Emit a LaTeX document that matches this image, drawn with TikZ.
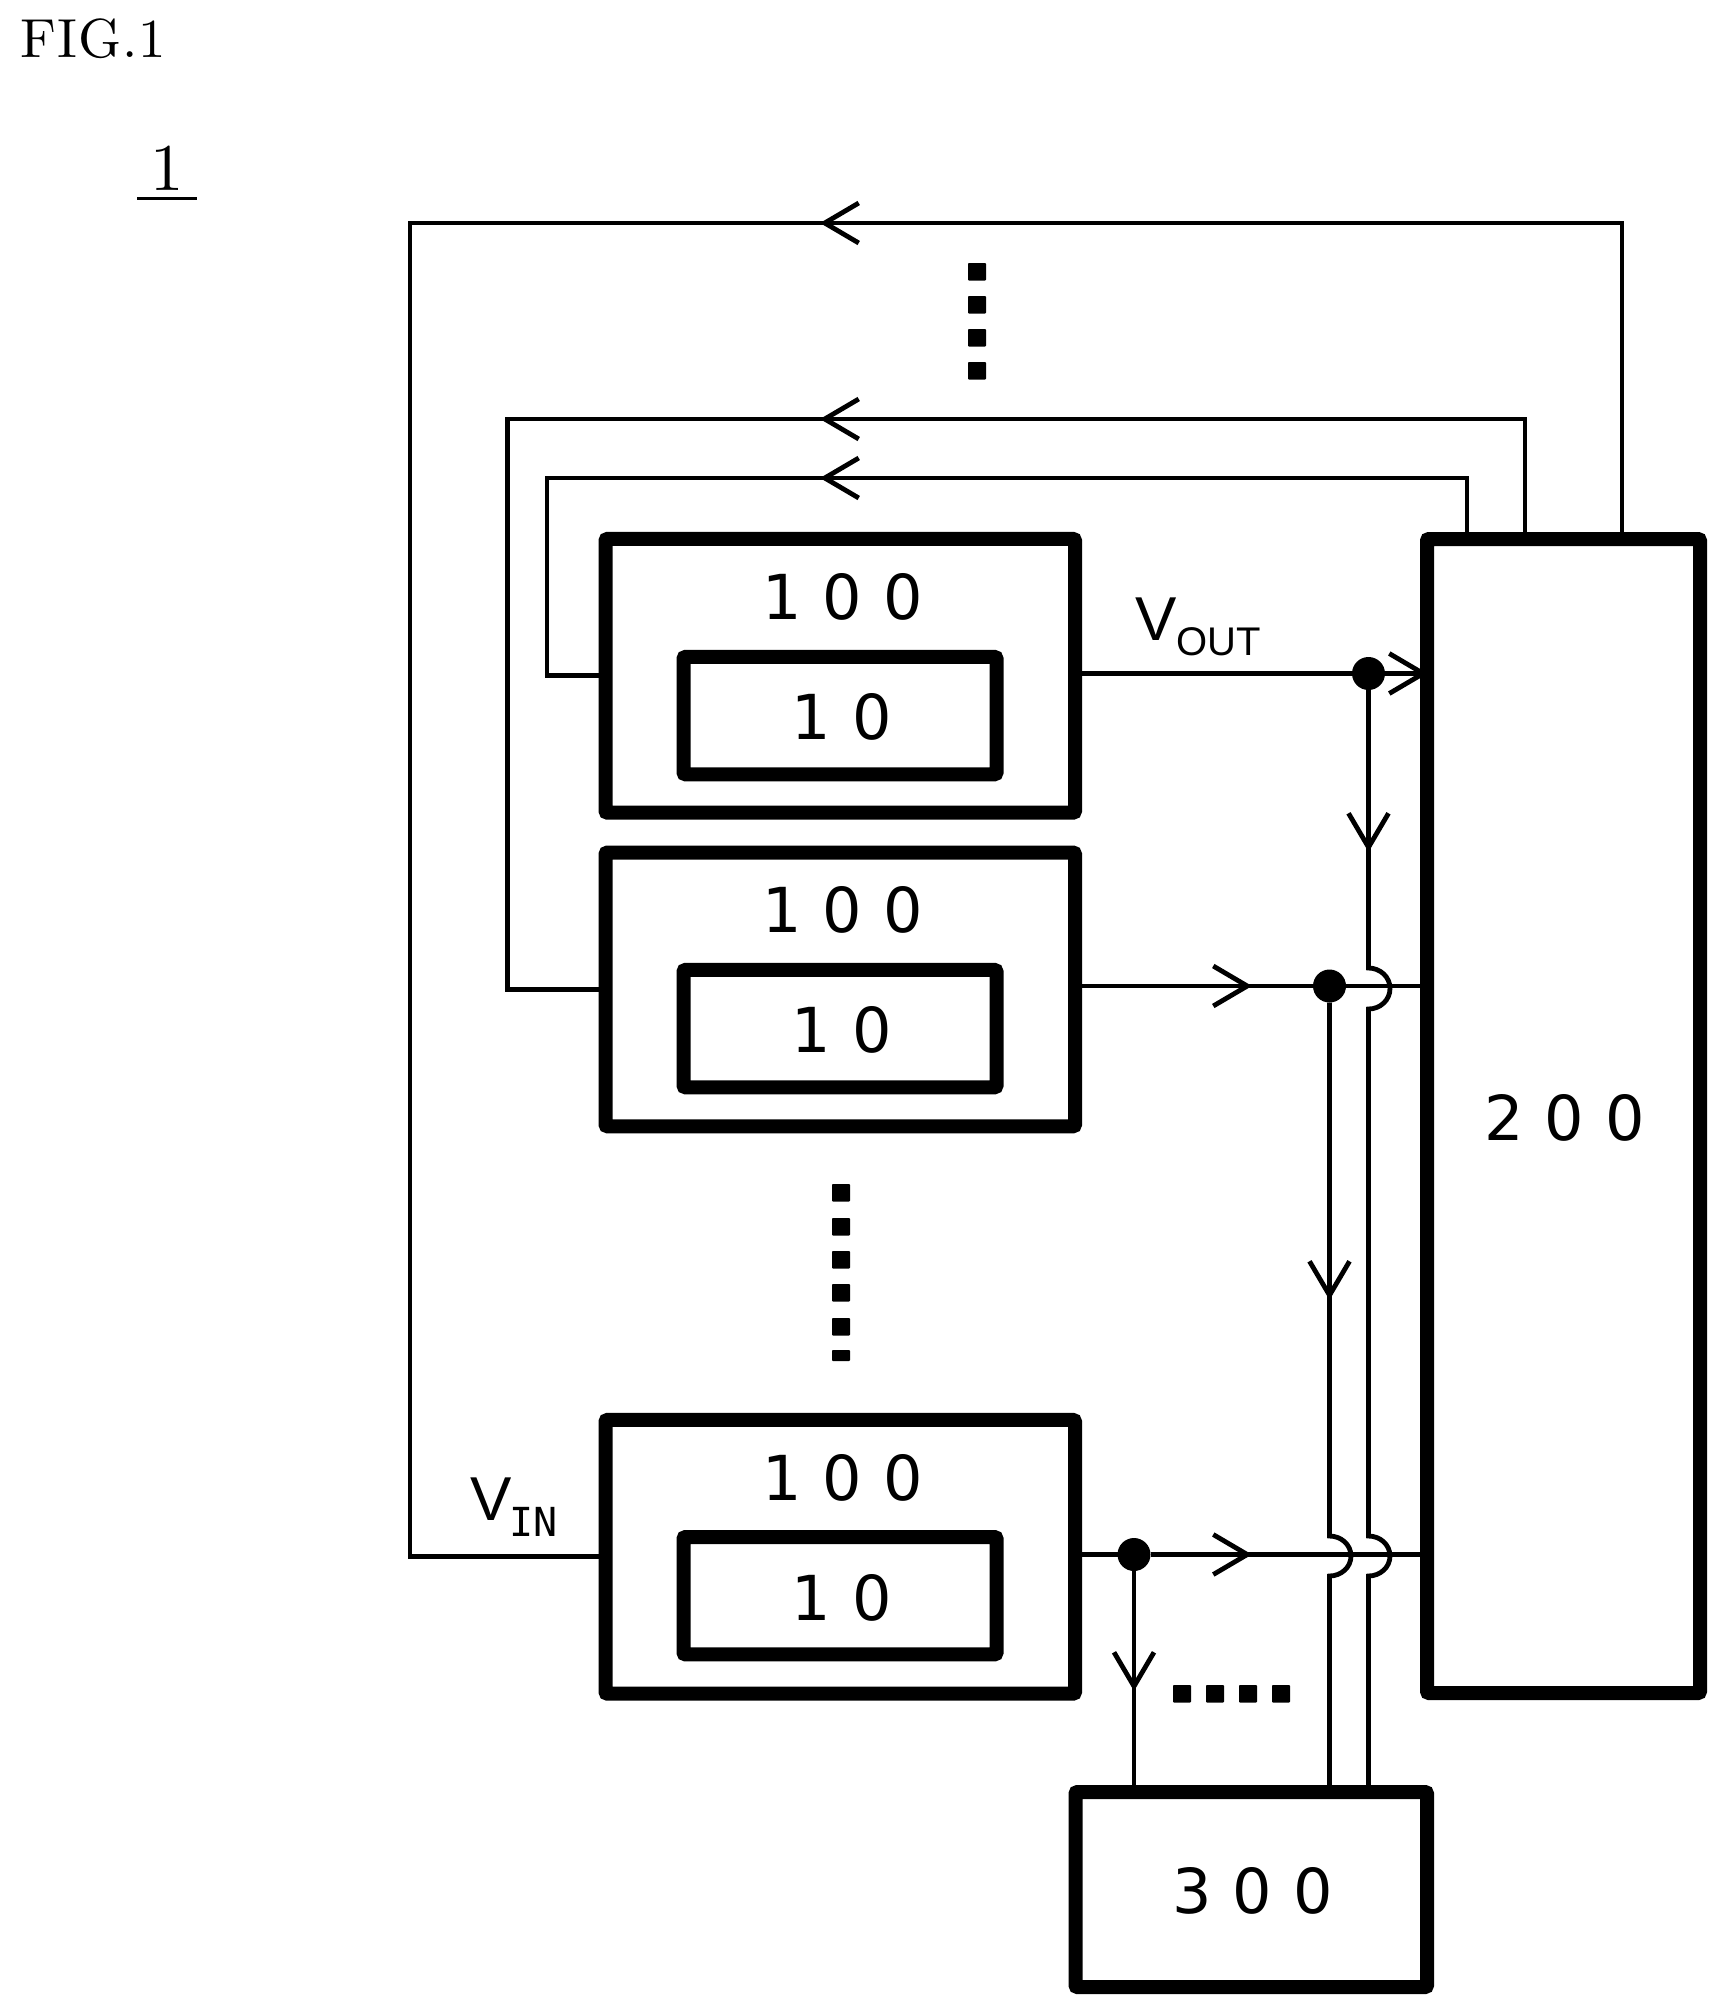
\documentclass[tikz,border=0pt]{standalone}
\usepackage{fontspec}
\setmainfont{Latin Modern Roman}
\newfontfamily\titlefont{lmroman10-regular.otf}
\newfontfamily\figfont[LetterSpace=1.5]{lmroman10-regular.otf}
\newfontfamily\digitfont[WordSpace=1.075]{DejaVu Sans}
\newfontfamily\voltfont{Liberation Sans}
\newfontfamily\monofont{DejaVu Sans Mono}
\usetikzlibrary{arrows.meta}
\tikzset{
  box/.style={draw,line width=7pt,rounded corners=1pt,inner sep=0pt,outer sep=0pt},
  wire/.style={draw,line width=2.4pt},
  flow/.style={wire,-{Straight Barb[length=17pt,width=20pt,line width=2.4pt]}},
  jdot/.style={circle,fill=black,inner sep=0pt,outer sep=0pt,minimum size=16.5pt},
  sq/.style={fill=black,rounded corners=0.4pt},
  digits/.style={anchor=base,inner sep=0pt,font=\digitfont\fontsize{31pt}{36pt}\selectfont},
  volt/.style={anchor=base west,inner sep=0pt,font=\voltfont\fontsize{31pt}{36pt}\selectfont},
}
\newcommand{\dotsq}[2]{\fill[sq] (#1,#2) rectangle ++(18,17.5);}
\begin{document}
\begin{tikzpicture}[x=0.5pt,y=-0.5pt]
\useasboundingbox (0,0) rectangle (1728,2015);

% titles
\node[anchor=base west,inner sep=0pt,font=\figfont\fontsize{27.5pt}{30pt}\selectfont] (fig) at (20.5,57.5) {FIG.1};
\node[anchor=base,inner sep=0pt,font=\titlefont\fontsize{33.4pt}{36pt}\selectfont] (sysnum) at (167,190) {1};
\draw[line width=1.5pt] (137,198) -- (197,198);

% boxes
\node[box,minimum width=234.75pt,minimum height=136.85pt] (b1) at (840.25,675.8) {};
\node[box,minimum width=234.75pt,minimum height=136.85pt] (b2) at (840.25,989.4) {};
\node[box,minimum width=234.75pt,minimum height=136.85pt] (b3) at (840.25,1556.8) {};
\node[box,minimum width=156.5pt,minimum height=58.65pt] (c1) at (840,715.6) {};
\node[box,minimum width=156.5pt,minimum height=58.65pt] (c2) at (840,1028.6) {};
\node[box,minimum width=156.5pt,minimum height=58.65pt] (c3) at (840,1595.7) {};
\node[box,minimum width=136.5pt,minimum height=577pt] (s) at (1563.5,1116) {};
\node[box,minimum width=175.75pt,minimum height=97.5pt] (m) at (1251.25,1889.5) {};

% box labels
\node[digits] (t1) at (842.5,619) {1 0 0};
\node[digits] (t2) at (842.5,932.5) {1 0 0};
\node[digits] (t3) at (842.5,1500.5) {1 0 0};
\node[digits] (u1) at (842,739.5) {1 0};
\node[digits] (u2) at (842,1052.5) {1 0};
\node[digits] (u3) at (842,1620) {1 0};
\node[digits] (ts) at (1564.5,1140) {2 0 0};
\node[digits] (tm) at (1252.5,1913) {3 0 0};

% voltage labels
\node[volt] (vout) at (1135,640) {V\raisebox{-7.5pt}{\fontsize{20pt}{24pt}\selectfont OUT}};
\node[volt] (vin) at (470,1520) {V\raisebox{-8pt}{\monofont\fontsize{20pt}{24pt}\selectfont\kern-1pt IN}};

% coordinates
\coordinate (r1) at (1622,223);
\coordinate (a1) at (820,223);
\coordinate (l1) at (410,223);
\coordinate (r2) at (1525,419);
\coordinate (a2) at (820,419);
\coordinate (l2) at (507.5,419);
\coordinate (r3) at (1467,478);
\coordinate (a3) at (820,478);
\coordinate (l3) at (547,478);

\node[jdot] (d1) at (1368.5,673.5) {};
\node[jdot] (d2) at (1329.5,986) {};
\node[jdot] (d3) at (1134,1554.5) {};

\coordinate (e1) at (1428,673.5);
\coordinate (e2) at (1252,986);
\coordinate (e3) at (1252,1554.5);
\coordinate (f1) at (1368.5,852);
\coordinate (f2) at (1329.5,1300);
\coordinate (f3) at (1134,1691);
\coordinate (j1a) at (1368.5,968);
\coordinate (j1b) at (1368.5,1009);
\coordinate (j2a) at (1368.5,1536);
\coordinate (j2b) at (1368.5,1576);
\coordinate (j3a) at (1329.5,1536);
\coordinate (j3b) at (1329.5,1576);

% feedback wires
\draw[wire] (r1 |- s.north) -- (r1) -- (l1) -- (l1 |- b3.west) -- (b3.west);
\draw[flow] (r1) -- (a1);
\draw[wire] (r2 |- s.north) -- (r2) -- (l2) -- (l2 |- b2.west) -- (b2.west);
\draw[flow] (r2) -- (a2);
\draw[wire] (r3 |- s.north) -- (r3) -- (l3) -- (l3 |- b1.west) -- (b1.west);
\draw[flow] (r3) -- (a3);

% output wires
\draw[wire] (b1.east |- d1) -- (d1) -- (s.west |- d1);
\draw[flow] (d1) -- (e1);
\draw[wire] (b2.east |- d2) -- (d2) -- (s.west |- d2);
\draw[flow] (b2.east |- d2) -- (e2);
\draw[wire] (b3.east |- d3) -- (d3) -- (s.west |- d3);
\draw[flow] (d3) -- (e3);

% wires to 300
\draw[wire] (d1) -- (j1a) to[out=0,in=90] ++(21.5,20.5) to[out=-90,in=0] (j1b) -- (j2a)
  to[out=0,in=90] ++(21.5,20) to[out=-90,in=0] (j2b) -- (m.north -| j2b);
\draw[flow] (d1) -- (f1);
\draw[wire] (d2) -- (j3a) to[out=0,in=90] ++(21.5,20) to[out=-90,in=0] (j3b) -- (m.north -| j3b);
\draw[flow] (d2) -- (f2);
\draw[wire] (d3) -- (m.north -| d3);
\draw[flow] (d3) -- (f3);

% ellipsis squares
\foreach \y in {263,296,329,362} {\dotsq{968}{\y}}
\foreach \y in {1184,1218,1251,1284,1318} {\dotsq{832}{\y}}
\fill[sq] (832,1350) rectangle ++(18,11);
\foreach \x in {1173,1206,1239,1272} {\dotsq{\x}{1685}}
\end{tikzpicture}
\end{document}
